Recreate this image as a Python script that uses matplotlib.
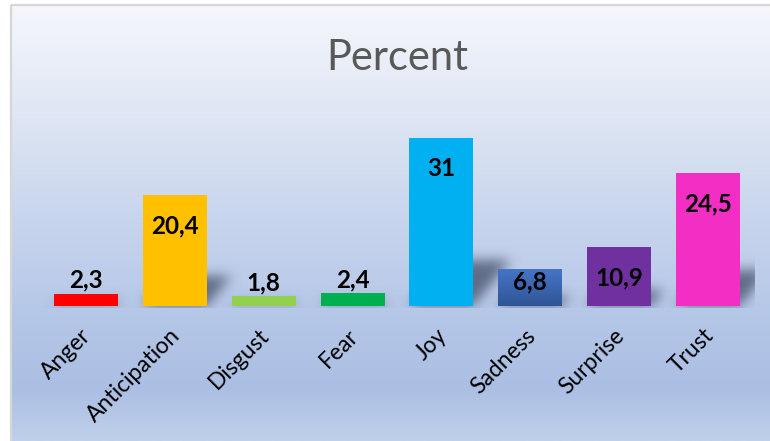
import numpy as np
import matplotlib
matplotlib.use("Agg")
import matplotlib.pyplot as plt
from matplotlib.transforms import ScaledTranslation

plt.rcParams['font.family'] = ['Lato', 'DejaVu Sans']

emotions = ['Anger', 'Anticipation', 'Disgust', 'Fear', 'Joy', 'Sadness', 'Surprise', 'Trust']
percent = [2.3, 20.4, 1.8, 2.4, 31, 6.8, 10.9, 24.5]
bar_colors = ['#FF0000', '#FFC000', '#92D050', '#00B050', '#00B0F0', '#3D69B8', '#7030A0', '#F22EC4']

W, H = 770, 441
fig = plt.figure(figsize=(W / 100, H / 100), dpi=100)
fig.patch.set_facecolor('white')

# background layer in pixel coordinates
bg = fig.add_axes([0, 0, 1, 1], zorder=0)
bg.set_xlim(0, W)
bg.set_ylim(H, 0)
bg.axis('off')

stops = [0.0, 0.25, 0.5, 0.75, 0.88, 1.0]
stop_cols = ['#f5f7fc', '#dfe6f4', '#c7d4ed', '#b2c5e6', '#abbfe4', '#bfd0ea']
rgb = np.array([matplotlib.colors.to_rgb(c) for c in stop_cols])
yy = np.linspace(0, 1, 400)
grad = np.stack([np.interp(yy, stops, rgb[:, k]) for k in range(3)], axis=1)[:, None, :]
bg.imshow(grad, extent=(11, W, H, 5), aspect='auto', interpolation='bilinear', zorder=0)
bg.plot([11, 11], [H, 5], color='#d6d6d6', lw=1.6, zorder=1, solid_capstyle='butt')
bg.plot([11, W], [5, 5], color='#d6d6d6', lw=1.6, zorder=1, solid_capstyle='butt')

base_px = 306
ymax = 35
px_per_unit = 5.42
ax = fig.add_axes([41.6 / W, (H - base_px) / H, 710.8 / W, ymax * px_per_unit / H], zorder=2)
ax.patch.set_visible(False)
ax.set_xlim(-0.5, len(emotions) - 0.5)
ax.set_ylim(0, ymax)
for s in ax.spines.values():
    s.set_visible(False)
ax.set_yticks([])

x = np.arange(len(emotions))
bw = 0.72
bars = ax.bar(x, percent, width=bw, color=bar_colors, zorder=3)

# vertical gradient on the Sadness bar
sad = bars[5]
sad_grad = np.linspace(0, 1, 50)[:, None]
sad_cmap = matplotlib.colors.LinearSegmentedColormap.from_list('sad', ['#4674C6', '#2F5597'])
im = ax.imshow(sad_grad, cmap=sad_cmap, aspect='auto', zorder=3.5,
               extent=(x[5] - bw / 2, x[5] + bw / 2, 0, percent[5]), origin='upper')
im.set_clip_path(sad)
ax.set_xlim(-0.5, len(emotions) - 0.5)
ax.set_ylim(0, ymax)

# perspective shadows behind the bars, blurred
alpha = np.zeros((H, W))
for xi, v in zip(x, percent):
    x0 = ax.transData.transform((xi - bw / 2, 0))[0]
    x1 = ax.transData.transform((xi + bw / 2, 0))[0]
    h = v * px_per_unit
    sh, skew = 0.27 * h, 0.22 * h
    for row in range(int(base_px - sh), base_px):
        t = (base_px - row) / max(sh, 1)
        a0, a1 = int(x0 + skew * t), int(x1 + skew * t)
        alpha[row, a0:a1] = 1
sig = 6
kx = np.arange(-3 * sig, 3 * sig + 1)
k = np.exp(-kx ** 2 / (2 * sig ** 2))
k /= k.sum()
alpha = np.apply_along_axis(lambda r: np.convolve(r, k, mode='same'), 1, alpha)
alpha = np.apply_along_axis(lambda c: np.convolve(c, k, mode='same'), 0, alpha)
alpha[base_px + 2:, :] = 0
alpha[:, 755:] = 0
shadow = np.zeros((H, W, 4))
shadow[..., 0], shadow[..., 1], shadow[..., 2] = 0.26, 0.30, 0.40
shadow[..., 3] = 0.75 * alpha
bg.imshow(shadow, extent=(0, W, H, 0), aspect='auto', interpolation='bilinear', zorder=2)
bg.set_xlim(0, W)
bg.set_ylim(H, 0)

# value labels
for xi, v in zip(x, percent):
    txt = f'{v:g}'.replace('.', ',')
    if v > 5:
        y = max(v - 38 / px_per_unit, 17 / px_per_unit)
    else:
        y = v + 6 / px_per_unit
    ax.text(xi, y, txt, ha='center', va='baseline', fontsize=17.5, fontweight='bold',
            color='black', zorder=5)

ax.set_xticks(x)
ax.set_xticklabels(emotions, rotation=45, ha='right', va='center', rotation_mode='anchor',
                   fontsize=16.5, color='black')
ax.tick_params(axis='x', length=0, pad=19)
offset = ScaledTranslation(0.02, 0, fig.dpi_scale_trans)
for lab in ax.get_xticklabels():
    lab.set_transform(lab.get_transform() + offset)

fig.text(397 / W, 1 - 70 / H, 'Percent', ha='center', va='baseline', fontsize=30, color='#595959')

fig.savefig('out.png', dpi=100)
